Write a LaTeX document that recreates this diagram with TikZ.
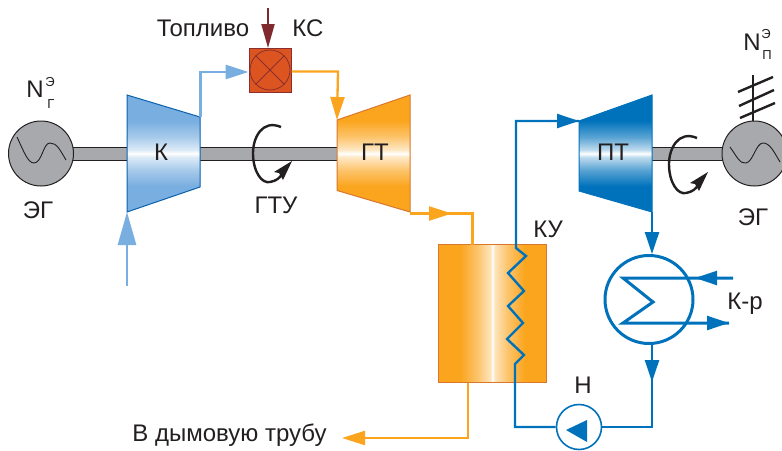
\documentclass[tikz,border=0pt]{standalone}
\usepackage{fontspec}
\setmainfont{Liberation Sans}
\usetikzlibrary{arrows.meta,calc}
\definecolor{kblue}{HTML}{78AEE0}
\definecolor{kedge}{HTML}{0A62AE}
\definecolor{pblue}{HTML}{0072BC}
\definecolor{orng}{HTML}{FBA51E}
\definecolor{oedge}{HTML}{D9782D}
\definecolor{shaftgrey}{HTML}{A7A9AC}
\definecolor{ink}{HTML}{231F20}
\definecolor{ksfill}{HTML}{DC5520}
\definecolor{ksedge}{HTML}{8A2E2E}
\definecolor{fuel}{HTML}{80292F}
\pgfdeclareverticalshading{vkblue}{100bp}{color(0bp)=(kblue);color(36bp)=(kblue);color(43bp)=(kblue!65!white);color(48.5bp)=(kblue!25!white);color(50bp)=(white);color(51.5bp)=(kblue!25!white);color(57bp)=(kblue!65!white);color(64bp)=(kblue);color(100bp)=(kblue)}
\pgfdeclareverticalshading{vpblue}{100bp}{color(0bp)=(pblue);color(36bp)=(pblue);color(43bp)=(pblue!65!white);color(48.5bp)=(pblue!25!white);color(50bp)=(white);color(51.5bp)=(pblue!25!white);color(57bp)=(pblue!65!white);color(64bp)=(pblue);color(100bp)=(pblue)}
\pgfdeclareverticalshading{vorng}{100bp}{color(0bp)=(orng);color(36bp)=(orng);color(43bp)=(orng!65!white);color(48.5bp)=(orng!25!white);color(50bp)=(white);color(51.5bp)=(orng!25!white);color(57bp)=(orng!65!white);color(64bp)=(orng);color(100bp)=(orng)}
\pgfdeclarehorizontalshading{horng}{100bp}{color(0bp)=(orng);color(35bp)=(orng);color(43bp)=(orng!65!white);color(49bp)=(orng!30!white);color(50bp)=(white);color(51bp)=(orng!30!white);color(57bp)=(orng!65!white);color(65bp)=(orng);color(100bp)=(orng)}
\tikzset{
  lbl/.style={anchor=base,inner sep=0pt,text=ink,font=\fontsize{24}{24}\selectfont},
  smalllbl/.style={anchor=base,inner sep=0pt,text=ink,font=\fontsize{13}{13}\selectfont},
  shaftbar/.style={fill=shaftgrey,draw=ink,line width=1pt},
  gen/.style={circle,draw=ink,fill=shaftgrey,line width=1pt,minimum size=65pt,inner sep=0pt},
  wave/.style={draw=ink,line width=.9pt},
  airline/.style={draw=kblue,line width=2.6pt},
  airhead/.style={-{Triangle[length=23pt,width=14pt]},airline},
  airbig/.style={-{Triangle[length=33pt,width=18pt]},airline},
  gasline/.style={draw=orng,line width=2.3pt},
  gashead/.style={-{Triangle[length=23pt,width=14pt]},gasline},
  wline/.style={draw=pblue,line width=2.4pt},
  whead/.style={-{Triangle[length=22pt,width=14pt]},wline},
  rot/.style={draw=ink,line width=2.4pt},
}
\newcommand{\rotsym}[2]{%
  \begin{scope}[shift={(#1,#2)}]
    \draw[rot] (281,127) .. controls (262,119) and (253,138) .. (253,153)
      .. controls (253,172) and (262,184) .. (270,182) .. controls (276,181) and (280,178) .. (282,174);
    \fill[ink] (292,161) -- (274,172) -- (279,173) -- (283,180) -- cycle;
  \end{scope}}
\begin{document}
\begin{tikzpicture}[x=1pt,y=-1pt]
\useasboundingbox (0,0) rectangle (782,450);
\fill[white] (0,0) rectangle (782,450);
% shafts
\path[shaftbar] (60,147) rectangle (130,160);
\path[shaftbar] (198,147) rectangle (340,160);
\path[shaftbar] (650,147) rectangle (730,160);
% generators
\node[gen] (genL) at (41,153.5) {};
\node[gen] (genR) at (754.5,153.5) {};
\draw[wave] (17,137) .. controls (24,152) and (28,163) .. (34,163) .. controls (42,163) and (43,143) .. (50,143) .. controls (57,143) and (60,150) .. (66,160);
\draw[wave] (730,147) .. controls (737,157) and (740,164) .. (746,163) .. controls (753,162) and (756,143) .. (763,143) .. controls (770,143) and (774,152) .. (780,162);
% compressor
\coordinate (kTL) at (127,95); \coordinate (kTR) at (200,117);
\coordinate (kBR) at (200,187); \coordinate (kBL) at (127,212);
\coordinate (airBend) at (200.5,72);
\path[shading=vkblue] (kTL)--(kTR)--(kBR)--(kBL)--cycle;
\draw[kedge,line width=1pt,line join=miter] (kTL)--(kTR)--(kBR)--(kBL)--cycle;
% gas turbine
\coordinate (gTL) at (337,120); \coordinate (gTR) at (410,95);
\coordinate (gBR) at (410,212); \coordinate (gBL) at (337,190.5);
\path[shading=vorng] (gTL)--(gTR)--(gBR)--(gBL)--cycle;
\draw[oedge,line width=1pt] (gTL)--(gTR)--(gBR)--(gBL)--cycle;
% steam turbine
\coordinate (pTL) at (579,121); \coordinate (pTR) at (652,95);
\coordinate (pBR) at (652,212); \coordinate (pBL) at (579,191);
\path[shading=vpblue] (pTL)--(pTR)--(pBR)--(pBL)--cycle;
\draw[pblue,line width=1pt] (pTL)--(pTR)--(pBR)--(pBL)--cycle;
% combustion chamber
\node[draw=ksedge,fill=ksfill,line width=1pt,minimum width=42pt,minimum height=44pt,inner sep=0pt] (ks) at (270,70) {};
\node[circle,draw=ksedge,line width=.8pt,minimum size=40pt,inner sep=0pt] (ksc) at (ks.center) {};
\draw[ksedge,line width=.8pt] (ksc.45)--(ksc.225) (ksc.135)--(ksc.315);
% air in
\coordinate (airIn) at (127,286);
\draw[airbig] (airIn) -- (kBL);
% air to KS
\coordinate (airStart) at (200.5,117);
\coordinate (ksIn) at (ks.west|-airBend);
\draw[airhead] (airStart) -- (airBend) -- (ksIn);
% fuel
\coordinate (fuelIn) at (268,8);
\draw[-{Triangle[length=24pt,width=13pt]},draw=fuel,line width=2.2pt] (fuelIn) -- (268,48);
% KS to GT
\coordinate (gasBend) at (338,71.5);
\draw[gashead] ($(ks.east)+(0,1.5)$) -- (gasBend) -- (gTL);
% KU
\node[minimum width=107pt,minimum height=137pt,inner sep=0pt,shading=horng] (ku) at (492.5,313.5) {};
\draw[oedge,line width=1.2pt] (ku.north west) rectangle (ku.south east);
% GT to KU
\coordinate (gOut) at (410,213.5);
\coordinate (gMid) at (452,213.5);
\coordinate (gBend) at (472.5,213.5);
\draw[gasline] (gOut) -- (gBend) -- (gBend|-ku.north);
\draw[gashead] (gOut) -- (gMid);
% KU to stack
\coordinate (kuOut) at (468,382.5);
\coordinate (stackBend) at (468,438);
\coordinate (stackEnd) at (342,438);
\draw[gashead] (kuOut) -- (stackBend) -- (stackEnd);
% pump and condenser
\node[circle,draw=pblue,fill=white,line width=1.6pt,minimum size=45pt,inner sep=0pt] (pump) at (579,427) {};
\node[circle,draw=pblue,line width=3pt,minimum size=88pt,inner sep=0pt] (cond) at (649,299.5) {};
\fill[pblue] (566,430) -- (587,420) -- (587,442) -- cycle;
% steam line
\coordinate (steamTop) at (516,121);
\coordinate (coilIn) at (516,248);
\coordinate (coilOut) at (515,364);
\coordinate (coilBot) at (515,427);
\draw[wline,line join=miter] (pTL) -- (steamTop) -- (coilIn) -- (526,256) -- (508,273) -- (524,291) -- (508,306) -- (523,323) -- (507,339) -- (524,355) -- (coilOut) -- (coilBot) -- (pump.west);
\draw[whead] (steamTop) -- (pTL);
% PT to condenser
\coordinate (condTop) at (652,254);
\coordinate (ptOut) at (652,212);
\draw[whead] (ptOut) -- (condTop);
% condenser to pump
\coordinate (condBot) at (652,345);
\coordinate (condMid) at (652,382);
\coordinate (condBend) at (652,427);
\draw[wline] (condBot) -- (condBend) -- (pump.east);
\draw[whead] (condBot) -- (condMid);
% cooling coil
\coordinate (cwIn) at (733,278);
\coordinate (cwHead) at (695,278);
\coordinate (cwOut) at (729,323);
\coordinate (cwA) at (623,278);
\coordinate (cwB) at (653,302);
\coordinate (cwC) at (623,323);
\draw[wline,line width=3pt,line join=miter] (cwIn) -- (cwA) -- (cwB) -- (cwC) -- (cwOut);
\draw[whead] (cwIn) -- (cwHead);
\draw[whead] (cwC) -- (cwOut);
% grid mark
\coordinate (mastTop) at (753,75);
\draw[ink,line width=2.4pt] (genR.north-|mastTop) -- (mastTop);
\draw[ink,line width=2.4pt] (738,92)--(773,77) (739,106)--(774,90) (740,118)--(775,103);
% rotation
\rotsym{0}{0}
\rotsym{416}{11}
% labels
\node[lbl] (tFuel) at (203,36) {Топливо};
\node[lbl] (tKS) at (308,36) {КС};
\node[lbl] (tK) at (161,160.5) {К};
\node[lbl] (tGT) at (375,160) {ГТ};
\node[lbl] (tPT) at (613,160) {ПТ};
\node[lbl] (tGTU) at (276,213) {ГТУ};
\node[lbl] (tKU) at (548,237) {КУ};
\node[lbl] (tEG1) at (38,218) {ЭГ};
\node[lbl] (tEG2) at (753,225) {ЭГ};
\node[lbl] (tKr) at (745,309) {К-р};
\node[lbl] (tH) at (583,393) {Н};
\node[lbl] (tStack) at (229.5,441) {В дымовую трубу};
\node[lbl] (tNg) at (35,97) {N};
\node[smalllbl] at (50,86) (tNgS) {Э};
\node[smalllbl] at (51,108) (tNgI) {Г};
\node[lbl] (tNp) at (752,50) {N};
\node[smalllbl] at (766,38) (tNpS) {Э};
\node[smalllbl] at (767,59) (tNpI) {П};
\end{tikzpicture}
\end{document}
